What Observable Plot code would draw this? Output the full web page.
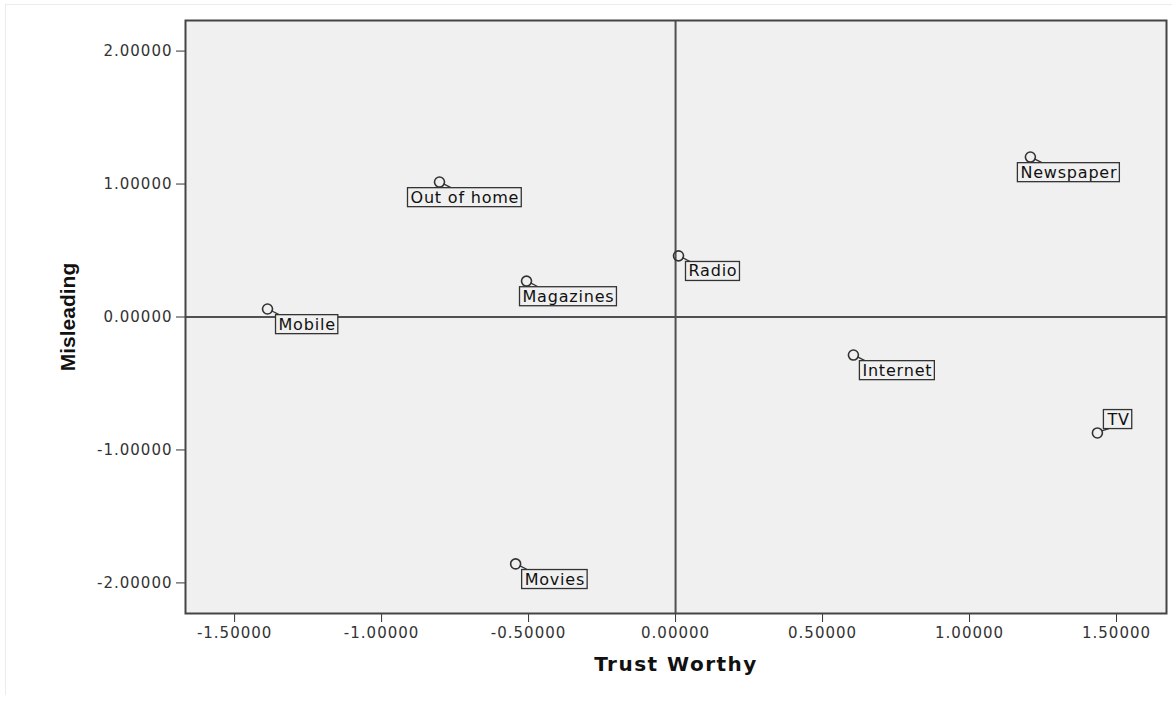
<!DOCTYPE html>
<html><head>
<meta charset="utf-8">
<script src="https://cdn.jsdelivr.net/npm/d3@7"></script>
<script src="https://cdn.jsdelivr.net/npm/@observablehq/plot@0.6"></script>
<style>
body{margin:0;background:#fff;}
#wrap{position:relative;width:1173px;height:701px;}
#edge{position:absolute;left:5px;top:4px;width:1166px;height:690px;border-left:1px solid #ececec;border-top:1px solid #ececec;pointer-events:none;}
</style>
</head><body>
<div id="wrap"><div id="chart"></div><div id="edge"></div></div>
<script>
// ---- data ----
const media = ["Out of home","Newspaper","Magazines","Radio","Mobile","Internet","TV","Movies"];
const trustWorthy = [-0.803, 1.207, -0.507, 0.010, -1.388, 0.605, 1.435, -0.544];
const misleading  = [ 1.015, 1.203,  0.270, 0.460,  0.060, -0.286, -0.872, -1.857];
const xTicks = [-1.5, -1.0, -0.5, 0, 0.5, 1.0, 1.5];
const yTicks = [-2, -1, 0, 1, 2];
const xTitle = "Trust Worthy";
const yTitle = "Misleading";

const data = media.map((m, i) => ({media: m, x: trustWorthy[i], y: misleading[i]}));

// ---- layout (label nudges in px, not data) ----
const nudge = {
  "Out of home": [-29, 15.5], "Newspaper": [-10, 15.5], "Magazines": [-4, 15.5],
  "Radio": [10, 15.5], "Mobile": [11, 15.5], "Internet": [9, 15.5],
  "TV": [10, -13.5], "Movies": [9, 15.5]
};
const fmt = d => d.toFixed(5);

const labelMarks = data.map(d => Plot.text([d], {
  x: "x", y: "y", text: "media", textAnchor: "start",
  dx: nudge[d.media][0], dy: nudge[d.media][1],
  fontSize: 16, fill: "#111", fontFamily: "DejaVu Sans"
}));

const plot = Plot.plot({
  width: 1173, height: 701,
  marginLeft: 185, marginTop: 20, marginRight: 7, marginBottom: 88,
  style: {background: "#fff", fontFamily: "DejaVu Sans", overflow: "visible"},
  x: {domain: [-1.667, 1.67]},
  y: {domain: [-2.23, 2.23]},
  marks: [
    Plot.frame({fill: "#f0f0f0"}),
    Plot.ruleX([0], {stroke: "#505050", strokeWidth: 2}),
    Plot.ruleY([0], {stroke: "#505050", strokeWidth: 2}),
    Plot.axisX({ticks: xTicks, tickFormat: fmt, tickSize: 9, tickPadding: 5, fontSize: 15, color: "#333", label: null}),
    Plot.axisY({ticks: yTicks, tickFormat: fmt, tickSize: 9, tickPadding: 4, fontSize: 15, color: "#333", label: null}),
    Plot.dot(data, {x: "x", y: "y", r: 5, stroke: "#333", strokeWidth: 1.6, fill: "none"}),
    ...labelMarks,
    Plot.text([xTitle], {text: d => d, frameAnchor: "bottom", textAnchor: "middle", dy: 57, fontSize: 20, fontWeight: "bold", fill: "#111", fontFamily: "DejaVu Sans"}),
    Plot.text([yTitle], {text: d => d, frameAnchor: "left", textAnchor: "middle", rotate: -90, dx: -117, fontSize: 21, fontWeight: "bold", fill: "#111", fontFamily: "Liberation Sans"}),
    Plot.frame({stroke: "#444", strokeWidth: 2})
  ]
});
document.getElementById("chart").append(plot);

// letter spacing tweaks
plot.querySelectorAll('g[aria-label="x-axis tick label"], g[aria-label="y-axis tick label"]').forEach(g => g.setAttribute("letter-spacing", "1"));
plot.querySelectorAll("text").forEach(t => {
  if (t.textContent === xTitle) t.setAttribute("letter-spacing", "1.5");
});

// boxes + leader lines around labels
const sx = plot.scale("x"), sy = plot.scale("y");
const ns = "http://www.w3.org/2000/svg";
const leaders = document.createElementNS(ns, "g");
leaders.setAttribute("stroke", "#333");
leaders.setAttribute("stroke-width", "1.3");
const labelSet = new Set(media);
let firstLabelGroup = null;
plot.querySelectorAll("text").forEach(t => {
  if (!labelSet.has(t.textContent)) return;
  t.setAttribute("letter-spacing", "0.8");
  const b = t.getBBox();
  const rect = document.createElementNS(ns, "rect");
  rect.setAttribute("x", b.x - 3);
  rect.setAttribute("y", b.y);
  rect.setAttribute("width", b.width + 5);
  rect.setAttribute("height", b.height);
  rect.setAttribute("fill", "#f0f0f0");
  rect.setAttribute("stroke", "#333");
  rect.setAttribute("stroke-width", "1.3");
  if (t.getAttribute("transform")) rect.setAttribute("transform", t.getAttribute("transform"));
  t.parentNode.insertBefore(rect, t);
  if (!firstLabelGroup) firstLabelGroup = t.parentNode;
  // leader line
  const d = data.find(e => e.media === t.textContent);
  const px = sx.apply(d.x), py = sy.apply(d.y);
  const m = t.getCTM();
  const rx0 = m.e + b.x - 3, ry0 = m.f + b.y, rx1 = rx0 + b.width + 5, ry1 = ry0 + b.height;
  const cx = Math.max(rx0, Math.min(rx1, px + 12)), cy = Math.max(ry0, Math.min(ry1, py));
  const dist = Math.hypot(cx - px, cy - py);
  if (dist > 5) {
    const line = document.createElementNS(ns, "line");
    line.setAttribute("x1", px + (cx - px) * 5 / dist);
    line.setAttribute("y1", py + (cy - py) * 5 / dist);
    line.setAttribute("x2", cx);
    line.setAttribute("y2", cy);
    leaders.appendChild(line);
  }
});
if (firstLabelGroup) plot.insertBefore(leaders, firstLabelGroup);
</script>
</body></html>
